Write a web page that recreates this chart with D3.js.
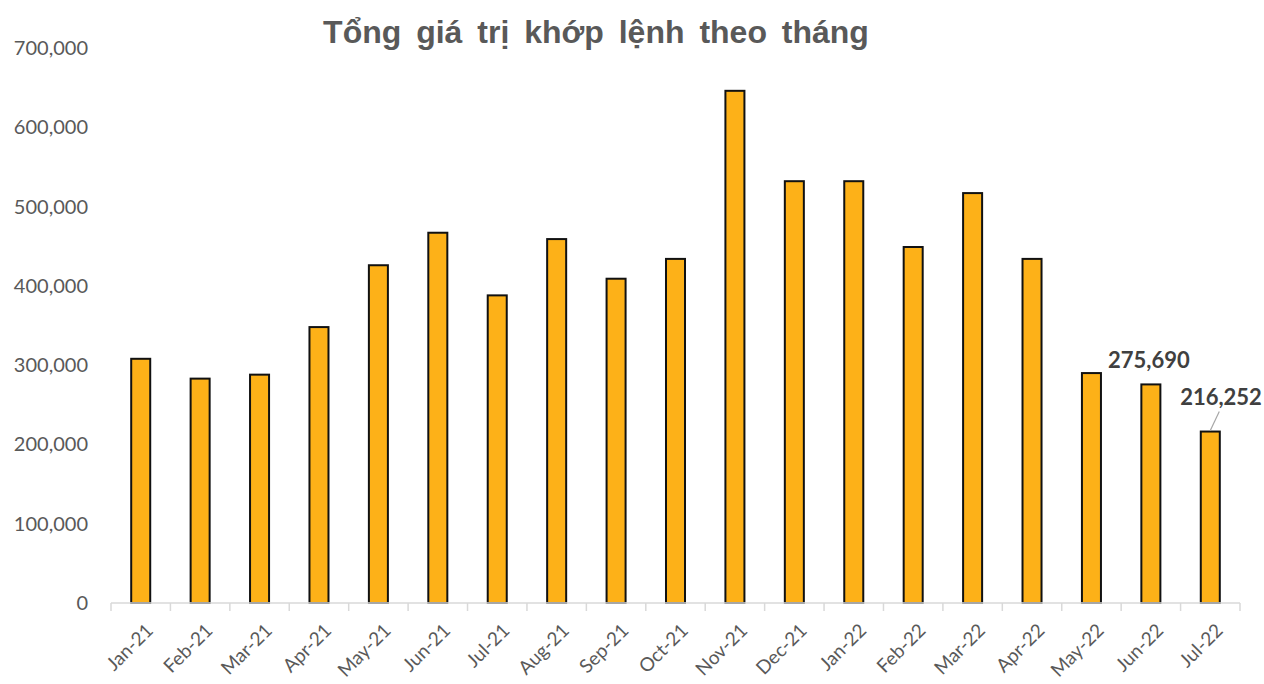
<!DOCTYPE html>
<html>
<head>
<meta charset="utf-8">
<script src="https://cdn.jsdelivr.net/npm/d3@7"></script>
<style>
  body { margin: 0; background: #fff; }
  svg { display: block; }
</style>
</head>
<body>
<svg id="chart" width="1264" height="684"></svg>
<script>
// data
const months = ["Jan-21", "Feb-21", "Mar-21", "Apr-21", "May-21", "Jun-21", "Jul-21", "Aug-21", "Sep-21", "Oct-21",
  "Nov-21", "Dec-21", "Jan-22", "Feb-22", "Mar-22", "Apr-22", "May-22", "Jun-22", "Jul-22"];
const values = [308000, 283000, 288000, 348000, 426000, 467000, 388000, 459000, 409000, 434000,
  646000, 532000, 532000, 449000, 517000, 434000, 290000, 275690, 216252];
const yTicks = [0, 100000, 200000, 300000, 400000, 500000, 600000, 700000];
const title = "Tổng giá trị khớp lệnh theo tháng";

const svg = d3.select("#chart");
const margin = { top: 48, left: 111, right: 24, bottom: 81 };
const width = 1264, height = 684;

const x = d3.scaleBand()
  .domain(months)
  .range([margin.left, width - margin.right])
  .paddingInner(0.68)
  .paddingOuter(0.34);

const y = d3.scaleLinear()
  .domain([0, 700000])
  .range([height - margin.bottom, margin.top]);

const fmt = d3.format(",");
const textCol = "#595959";

// title
svg.append("text")
  .attr("x", 596)
  .attr("y", 43)
  .attr("text-anchor", "middle")
  .style("font-family", "'Liberation Sans', Arial, sans-serif")
  .style("font-weight", "bold")
  .style("font-size", "32px")
  .style("word-spacing", "6px")
  .style("fill", textCol)
  .text(title);

// y labels (no gridlines)
svg.append("g")
  .selectAll("text")
  .data(yTicks)
  .enter()
  .append("text")
  .attr("x", 88)
  .attr("y", (d) => y(d))
  .attr("dy", "0.35em")
  .attr("text-anchor", "end")
  .style("font-family", "Lato, 'Open Sans', sans-serif")
  .style("font-size", "20px")
  .style("fill", textCol)
  .text((d) => fmt(d));

// bars
svg.append("g")
  .selectAll("rect")
  .data(values)
  .enter()
  .append("rect")
  .attr("x", (d, i) => x(months[i]))
  .attr("y", (d) => y(d))
  .attr("width", x.bandwidth())
  .attr("height", (d) => y(0) - y(d))
  .attr("fill", "#fdb118")
  .attr("stroke", "#111")
  .attr("stroke-width", 2);

// x axis line with ticks between categories
const step = x.step();
const axisG = svg.append("g");
axisG.append("line")
  .attr("x1", margin.left)
  .attr("x2", width - margin.right)
  .attr("y1", y(0))
  .attr("y2", y(0))
  .attr("stroke", "#d9d9d9")
  .attr("stroke-width", 1.5);
axisG.selectAll(".tick")
  .data(d3.range(months.length + 1))
  .enter()
  .append("line")
  .attr("x1", (i) => margin.left + i * step)
  .attr("x2", (i) => margin.left + i * step)
  .attr("y1", y(0))
  .attr("y2", y(0) + 8)
  .attr("stroke", "#d9d9d9")
  .attr("stroke-width", 1.5);

// x labels rotated
axisG.selectAll(".xlab")
  .data(months)
  .enter()
  .append("text")
  .attr("transform", (d) => "translate(" + (x(d) + x.bandwidth() / 2 + 4) + "," + (y(0) + 19) + ") rotate(-45)")
  .attr("text-anchor", "end")
  .attr("dy", "0.72em")
  .style("font-family", "Lato, 'Open Sans', sans-serif")
  .style("font-size", "19px")
  .style("fill", textCol)
  .text((d) => d);

// data labels for last two bars
const jun = months.length - 2, jul = months.length - 1;
svg.append("text")
  .attr("x", x(months[jun]) + x.bandwidth() / 2 - 2)
  .attr("y", 368)
  .attr("text-anchor", "middle")
  .style("font-family", "Lato, 'Open Sans', sans-serif")
  .style("font-weight", "bold")
  .style("font-size", "22px")
  .style("fill", "#404040")
  .text(fmt(values[jun]));

svg.append("line")
  .attr("x1", x(months[jul]) + x.bandwidth() / 2 + 9)
  .attr("y1", y(values[jul]) - 20)
  .attr("x2", x(months[jul]) + x.bandwidth() / 2)
  .attr("y2", y(values[jul]) - 1)
  .attr("stroke", "#a6a6a6")
  .attr("stroke-width", 1.2);

svg.append("text")
  .attr("x", 1221)
  .attr("y", 405)
  .attr("text-anchor", "middle")
  .style("font-family", "Lato, 'Open Sans', sans-serif")
  .style("font-weight", "bold")
  .style("font-size", "22px")
  .style("fill", "#404040")
  .text(fmt(values[jul]));
</script>
</body>
</html>
